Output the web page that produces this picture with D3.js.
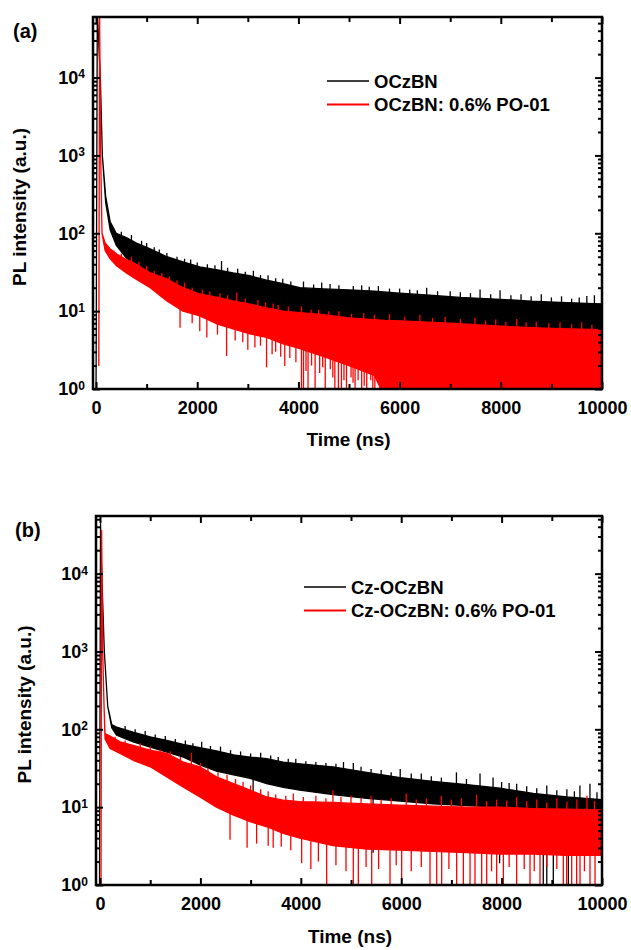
<!DOCTYPE html>
<html>
<head>
<meta charset="utf-8">
<script src="https://cdn.jsdelivr.net/npm/d3@7"></script>
<style>
  body { margin: 0; background: #fff; }
  text { font-family: "Liberation Sans", Arial, sans-serif; font-weight: bold; }
</style>
</head>
<body>
<script>
// tick values
const xMajorTicks = [0, 2000, 4000, 6000, 8000, 10000];
const xMinorTicks = [1000, 3000, 5000, 7000, 9000];
const yMajorTicks = [1, 10, 100, 1000, 10000];
const yMinorSteps = [2, 3, 4, 5, 6, 7, 8, 9];

// (a) OCzBN  -- time (ns), upper / lower edge of the noisy trace
const aBlackT  = [0, 25, 85, 125, 190, 280, 400, 600, 800, 1070, 1400, 1720, 2050, 2400, 2710, 3040, 3370, 3700, 4030, 4500, 5000, 5500, 6000, 6600, 7200, 8000, 8600, 9300, 9990];
const aBlackHi = [0.9, 70000, 10000, 1000, 300, 140, 100, 88, 75, 63, 50, 43, 37, 34, 31, 28.5, 25, 22.5, 20, 19.3, 18.7, 18, 17, 16, 15, 14.2, 13.4, 12.9, 12.4];
const aBlackLo = [0.9, 70000, 10000, 1000, 250, 110, 70, 48, 40, 30, 25, 19, 16, 14, 13, 12, 10.5, 9.5, 9, 8.5, 8, 7.5, 7.2, 7, 6.6, 6.2, 6, 5.7, 5.5];
const aBlackSpikes = [[500, 105], [700, 95], [900, 80], [1000, 75], [1150, 66], [1250, 62], [1400, 56], [1600, 50], [1750, 47], [1870, 46], [2000, 42], [2200, 40], [2350, 39], [2480, 44], [2600, 36], [2800, 35], [2950, 32], [3110, 33], [3250, 29], [3400, 29], [3550, 26.5], [3690, 26], [3850, 24], [4100, 24], [4300, 22], [4460, 23.3], [4625, 22.4], [4800, 21.5], [5085, 21], [5250, 21.5], [5400, 20.5], [5580, 21], [5800, 19.5], [6000, 19.5], [6200, 19], [6350, 18.5], [6535, 20], [6750, 18], [7000, 18], [7200, 17.5], [7400, 17], [7590, 19], [7800, 16.5], [7985, 18.5], [8200, 16], [8400, 16.5], [8600, 15.5], [8800, 16.5], [9000, 15], [9200, 15.5], [9400, 14.5], [9550, 15], [9700, 15.7], [9850, 16]];
const aBlackDips = [];

// (a) OCzBN: 0.6% PO-01
const aRedT  = [55, 70, 92, 118, 180, 280, 410, 600, 735, 1070, 1400, 1720, 2050, 2400, 2710, 3040, 3370, 3700, 4030, 4500, 5000, 5500, 5700, 6000, 7000, 8000, 9000, 9990];
const aRedHi = [2, 70000, 1000, 100, 75, 63, 54, 46, 42, 31, 26, 20, 16.6, 15, 13.5, 12.3, 11, 10, 9.6, 9, 8.2, 7.8, 7.6, 7.5, 7, 6.4, 6, 5.8];
const aRedLo = [2, 70000, 1000, 100, 60, 47, 38, 31, 27, 20, 13.5, 10, 8.7, 6.8, 5.9, 5.1, 4.6, 3.8, 3.3, 2.6, 2.0, 1.5, 0.8, 0.8, 0.8, 0.8, 0.8, 0.8];
const aRedSpikes = [[350, 60], [500, 55], [700, 50], [850, 43], [1000, 38], [1150, 33], [1300, 31], [1450, 28], [1600, 25], [1750, 23.3], [1900, 20], [2100, 19], [2250, 18], [2450, 17], [2600, 16], [2780, 17.3], [2950, 14.5], [3200, 14], [3350, 13], [3500, 12.5], [3600, 12], [3800, 11.5], [4060, 11.5], [4250, 10.5], [4400, 10.5], [4600, 10], [4800, 10], [5050, 9.3], [5290, 9.5], [5500, 9], [5800, 9.2], [6100, 8.5], [6400, 9], [6650, 8.2], [6900, 8.5], [7200, 8], [7490, 8.2], [7700, 7.6], [7900, 7.8], [8100, 7.3], [8315, 7.9], [8500, 7.2], [8700, 7.3], [8950, 7], [9170, 7.2], [9400, 6.8], [9600, 7.2], [9800, 6.7]];
const aRedDips = [[1660, 6.1], [1900, 7], [2050, 5.5], [2190, 4.6], [2400, 5], [2580, 2.65], [2750, 4.2], [2900, 4], [3000, 3.2], [3140, 3.4], [3250, 3.6], [3370, 1.9], [3480, 2.8], [3550, 3], [3650, 2.6], [3730, 1.97], [3830, 2.5], [3950, 2.2],
  [4060, 0.8], [4100, 0.8], [4150, 1.7], [4190, 0.8], [4260, 2.0], [4330, 0.8], [4420, 1.6], [4480, 1.9], [4530, 0.8], [4630, 1.8], [4680, 1.4], [4720, 0.8], [4790, 0.8], [4850, 0.8], [4900, 1.3], [4950, 0.8], [5040, 1.4], [5080, 1.2], [5120, 0.8], [5180, 1.3], [5250, 0.8], [5300, 1.1], [5350, 0.8], [5430, 1.3], [5470, 1.0], [5510, 0.8], [5610, 0.8]];

// (b) Cz-OCzBN
const bBlackT  = [-10, 10, 34, 86, 153, 233, 330, 660, 1000, 1330, 1660, 1990, 2320, 2660, 2990, 3320, 3650, 3980, 4640, 5310, 5980, 6630, 7310, 7970, 8630, 9300, 9990];
const bBlackHi = [0.9, 44000, 10000, 1000, 200, 115, 107, 92, 80, 72, 64, 58, 53, 47, 44, 42, 38, 36, 33, 28, 24, 21.5, 19.5, 17.5, 15, 13.5, 12.5];
const bBlackLo = [0.9, 44000, 10000, 1000, 200, 105, 84, 69, 59, 51, 44, 35, 29, 26, 23.5, 20, 18, 16.5, 14.5, 13, 12, 11, 10.5, 10, 9.5, 9, 8.8];
const bBlackSpikes = [[500, 110], [700, 100], [900, 95], [1100, 86], [1300, 82], [1500, 75], [1700, 72], [1850, 66], [2025, 69], [2200, 61], [2400, 60], [2600, 54], [2800, 52], [3000, 49], [3200, 50], [3400, 46], [3550, 44], [3750, 42], [3900, 42], [4100, 39], [4300, 38], [4500, 37], [4700, 36], [4850, 38], [5046, 37], [5200, 33], [5400, 31], [5600, 30], [5800, 28], [5980, 31], [6200, 27], [6400, 27], [6600, 25], [6800, 24], [7100, 28], [7300, 23], [7570, 27], [7830, 24], [8000, 21], [8150, 20.5], [8300, 20], [8500, 18.5], [8700, 17.5], [8900, 19], [9100, 16.5], [9300, 17], [9450, 16], [9560, 19], [9760, 20], [9900, 15.5]];
const bBlackDips = [[3050, 13.5], [5440, 2.6], [7960, 1.9], [8830, 0.8], [8900, 0.8], [9030, 0.8], [9330, 0.8]];

// (b) Cz-OCzBN: 0.6% PO-01
const bRedT  = [20, 32, 54, 80, 100, 200, 400, 660, 1000, 1330, 1660, 1990, 2320, 2660, 2990, 3320, 3650, 3980, 4640, 5310, 5980, 6630, 7310, 7970, 8630, 9300, 9990];
const bRedHi = [0.9, 36000, 1000, 200, 88, 82, 69, 62, 54, 49, 38, 33, 24.5, 20, 16.5, 13.5, 12.3, 11.8, 11.5, 11, 10.6, 10.3, 10, 10, 9.6, 9.4, 9.2];
const bRedLo = [0.9, 36000, 1000, 200, 75, 57, 49, 40, 33, 24.5, 18, 13.5, 10, 7.9, 6.5, 5.6, 4.6, 4.0, 3.2, 2.9, 2.8, 2.7, 2.6, 2.5, 2.5, 2.4, 2.4];
const bRedSpikes = [[300, 80], [500, 72], [800, 66], [1000, 60], [1200, 55], [1400, 52], [1600, 44], [1820, 50], [2000, 37], [2150, 32], [2350, 28], [2530, 26], [2700, 23], [2850, 21], [3000, 19], [3200, 17], [3350, 16], [3500, 14.5], [3700, 14], [3850, 15], [4050, 13.5], [4300, 14], [4500, 13], [4640, 16.5], [4800, 13.5], [5000, 14], [5200, 13], [5400, 14], [5600, 12.5], [5800, 13], [6100, 15], [6300, 12.5], [6500, 13], [6800, 14], [7000, 12.5], [7200, 13], [7500, 14.5], [7700, 12], [7900, 12.5], [8100, 12.2], [8300, 13.5], [8500, 12], [8700, 12.5], [8900, 11.5], [9100, 13], [9300, 11.8], [9500, 12.5], [9700, 14], [9850, 12]];
const bRedDips = [[2590, 3.8], [2930, 3.0], [3120, 3.4], [3350, 3.2], [3450, 3.0], [3610, 3.1], [3800, 2.8], [4017, 1.9], [4200, 1.6], [4350, 2], [4700, 1.8], [4900, 1.5], [5300, 1.7], [5550, 1.6], [5900, 1.8], [6200, 1.5], [6400, 1.7], [6950, 1.6], [7800, 1.5], [8150, 1.7], [8450, 1.6], [8650, 1.5], [8900, 1.7], [9100, 1.6], [9650, 1.5],
  [4515, 0.8], [5046, 0.8], [5146, 0.8], [5412, 0.8], [5777, 0.8], [6009, 0.8], [6574, 0.8], [6707, 0.8], [6806, 0.8], [7105, 0.8], [7238, 0.8], [7371, 0.8], [7470, 0.8], [7603, 0.8], [7703, 0.8], [7902, 0.8], [8035, 0.8], [8300, 0.8], [8566, 0.8], [8765, 0.8], [9230, 0.8], [9296, 0.8], [9396, 0.8], [9495, 0.8], [9562, 0.8], [9761, 0.8], [9861, 0.8]];

const svg = d3.select('body').append('svg')
    .attr('width', 631)
    .attr('height', 950);

const panels = [
  { id: 'a', tag: '(a)', left: 93, right: 602, top: 17, bottom: 389, xMin: -60, yMax: 60000,
    tagX: 13, tagY: 38, yTitleX: 26, xTitleY: 446, legX: 327, legY: 81,
    series: [
      { name: 'OCzBN', color: '#000', t: aBlackT, hi: aBlackHi, lo: aBlackLo, spikes: aBlackSpikes, dips: aBlackDips },
      { name: 'OCzBN: 0.6% PO-01', color: '#ff0000', t: aRedT, hi: aRedHi, lo: aRedLo, spikes: aRedSpikes, dips: aRedDips }
    ] },
  { id: 'b', tag: '(b)', left: 96, right: 602, top: 516, bottom: 885, xMin: -80, yMax: 55000,
    tagX: 15, tagY: 537, yTitleX: 31, xTitleY: 943, legX: 304, legY: 587,
    series: [
      { name: 'Cz-OCzBN', color: '#000', t: bBlackT, hi: bBlackHi, lo: bBlackLo, spikes: bBlackSpikes, dips: bBlackDips },
      { name: 'Cz-OCzBN: 0.6% PO-01', color: '#ff0000', t: bRedT, hi: bRedHi, lo: bRedLo, spikes: bRedSpikes, dips: bRedDips }
    ] }
];

panels.forEach(p => {
  const g = svg.append('g');
  const x = d3.scaleLinear().domain([p.xMin, 10000]).range([p.left, p.right]);
  const y = d3.scaleLog().domain([1, p.yMax]).range([p.bottom, p.top]);

  svg.append('clipPath').attr('id', 'clip-' + p.id)
    .append('rect')
    .attr('x', p.left).attr('y', p.top)
    .attr('width', p.right - p.left).attr('height', p.bottom - p.top);

  const plot = g.append('g').attr('clip-path', `url(#clip-${p.id})`);

  p.series.forEach(s => {
    const pts = s.t.map((t, i) => ({ t: t, hi: s.hi[i], lo: s.lo[i] }));
    // edge lookups (log-space) to anchor spikes and dips on the band
    const hiAt = d3.scaleLinear().domain(s.t).range(s.hi.map(Math.log));
    const loAt = d3.scaleLinear().domain(s.t).range(s.lo.map(Math.log));

    plot.append('path')
      .datum(pts)
      .attr('d', d3.area().x(d => x(d.t)).y0(d => y(d.lo)).y1(d => y(d.hi)))
      .attr('fill', s.color)
      .attr('stroke', s.color)
      .attr('stroke-width', 1.3)
      .attr('stroke-linejoin', 'round');

    plot.selectAll(null)
      .data(s.spikes)
      .enter().append('line')
      .attr('x1', d => x(d[0])).attr('x2', d => x(d[0]))
      .attr('y1', d => y(Math.exp(hiAt(d[0]))) + 2).attr('y2', d => y(d[1]))
      .attr('stroke', s.color).attr('stroke-width', 1.3);

    plot.selectAll(null)
      .data(s.dips)
      .enter().append('line')
      .attr('x1', d => x(d[0])).attr('x2', d => x(d[0]))
      .attr('y1', d => y(Math.exp(loAt(d[0]))) - 2).attr('y2', d => y(d[1]))
      .attr('stroke', s.color).attr('stroke-width', 1.3);
  });

  // axes, ticks pointing inward
  const yMinor = [];
  yMajorTicks.forEach(m => yMinorSteps.forEach(k => { if (m * k < p.yMax) yMinor.push(m * k); }));

  const styleAxis = sel => {
    sel.select('.domain').remove();
    sel.selectAll('line').attr('stroke', '#000').attr('stroke-width', 2);
    sel.attr('font-size', 18).attr('font-family', null);
  };

  g.append('g').attr('transform', `translate(0,${p.bottom})`)
    .call(d3.axisBottom(x).tickValues(xMajorTicks).tickSize(-7).tickPadding(12).tickFormat(d3.format('d')))
    .call(styleAxis);
  g.append('g').attr('transform', `translate(0,${p.bottom})`)
    .call(d3.axisBottom(x).tickValues(xMinorTicks).tickSize(-5).tickFormat(''))
    .call(styleAxis);
  g.append('g').attr('transform', `translate(0,${p.top})`)
    .call(d3.axisTop(x).tickValues(xMajorTicks).tickSize(-7).tickFormat(''))
    .call(styleAxis);
  g.append('g').attr('transform', `translate(0,${p.top})`)
    .call(d3.axisTop(x).tickValues(xMinorTicks).tickSize(-5).tickFormat(''))
    .call(styleAxis);

  const yAxis = g.append('g').attr('transform', `translate(${p.left},0)`)
    .call(d3.axisLeft(y).tickValues(yMajorTicks).tickSize(-7).tickPadding(8))
    .call(styleAxis);
  yAxis.selectAll('.tick text').each(function(d) {
    const t = d3.select(this);
    t.text('');
    t.append('tspan').text('10');
    t.append('tspan').attr('dy', '-0.45em').attr('font-size', 12).text(Math.round(Math.log10(d)));
  });
  g.append('g').attr('transform', `translate(${p.left},0)`)
    .call(d3.axisLeft(y).tickValues(yMinor).tickSize(-4).tickFormat(''))
    .call(styleAxis);
  g.append('g').attr('transform', `translate(${p.right},0)`)
    .call(d3.axisRight(y).tickValues(yMajorTicks).tickSize(-7).tickFormat(''))
    .call(styleAxis);
  g.append('g').attr('transform', `translate(${p.right},0)`)
    .call(d3.axisRight(y).tickValues(yMinor).tickSize(-4).tickFormat(''))
    .call(styleAxis);

  g.append('rect')
    .attr('x', p.left).attr('y', p.top)
    .attr('width', p.right - p.left).attr('height', p.bottom - p.top)
    .attr('fill', 'none').attr('stroke', '#000').attr('stroke-width', 2.5);

  // titles
  g.append('text').attr('x', p.tagX).attr('y', p.tagY).attr('font-size', 20).text(p.tag);
  g.append('text')
    .attr('transform', `translate(${p.yTitleX},${(p.top + p.bottom) / 2 + 4}) rotate(-90)`)
    .attr('text-anchor', 'middle').attr('font-size', 19)
    .text('PL intensity (a.u.)');
  g.append('text')
    .attr('x', (p.left + p.right) / 2 + 1).attr('y', p.xTitleY)
    .attr('text-anchor', 'middle').attr('font-size', 19)
    .text('Time (ns)');

  // legend: sample swatch as a thin filled bar
  p.series.forEach((s, i) => {
    const ly = p.legY + i * 23.5;
    const lw = i ? 2 : 1.5;
    g.append('rect')
      .attr('x', p.legX).attr('y', ly - lw / 2)
      .attr('width', 42).attr('height', lw)
      .attr('fill', s.color);
    g.append('text')
      .attr('x', p.legX + 47).attr('y', ly + 6.5)
      .attr('font-size', 18.5)
      .text(s.name);
  });
});
</script>
</body>
</html>
